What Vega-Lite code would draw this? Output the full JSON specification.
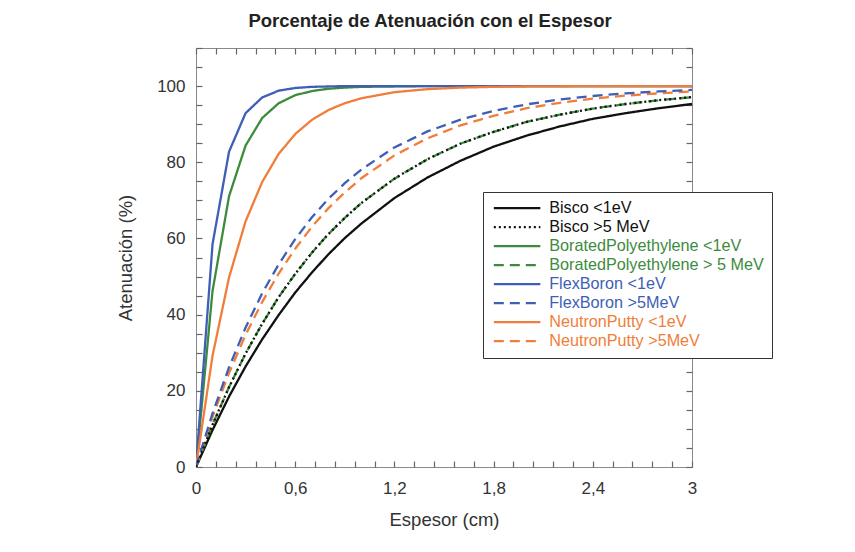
{
 "$schema": "https://vega.github.io/schema/vega-lite/v6.json",
 "width": 496, "height": 419,
 "autosize": {"type": "none"},
 "padding": {"left": 196, "top": 48, "right": 163, "bottom": 85},
 "background": "white",
 "title": {"text": "Porcentaje de Atenuación con el Espesor", "font": "Liberation Sans", "fontSize": 18.5, "fontWeight": "bold", "color": "#222222", "anchor": "middle", "dx": -14, "offset": 17},
 "config": {
  "view": {"stroke": "#8a8a8a", "strokeWidth": 1},
  "axis": {"grid": false, "domain": false, "ticks": true, "zindex": 2, "tickColor": "#666666", "tickWidth": 1.2, "tickSize": 6, "offset": -6, "labelFont": "Liberation Sans", "labelFontSize": 17, "labelColor": "#333333", "titleFont": "Liberation Sans", "titleFontSize": 18.5, "titleFontWeight": "normal", "titleColor": "#333333"},
  "legend": {"orient": "none", "legendX": 287, "legendY": 144, "symbolType": "M-3.8,0L3.8,0", "symbolSize": 150, "symbolStrokeWidth": 2.3, "symbolOffset": 18, "labelFont": "Liberation Sans", "labelFontSize": 16.2, "labelOffset": 24, "labelLimit": 400, "strokeColor": "#333333", "fillColor": "white", "padding": 8, "rowPadding": 2}
 },
 "data": {"values": [
  {"s":"Bisco <1eV","x":0,"y":0},{"s":"Bisco <1eV","x":0.1,"y":9.7},{"s":"Bisco <1eV","x":0.2,"y":18.5},{"s":"Bisco <1eV","x":0.3,"y":26.4},{"s":"Bisco <1eV","x":0.4,"y":33.5},{"s":"Bisco <1eV","x":0.5,"y":39.9},{"s":"Bisco <1eV","x":0.6,"y":45.8},{"s":"Bisco <1eV","x":0.7,"y":51.0},{"s":"Bisco <1eV","x":0.8,"y":55.8},{"s":"Bisco <1eV","x":0.9,"y":60.1},{"s":"Bisco <1eV","x":1.0,"y":63.9},{"s":"Bisco <1eV","x":1.2,"y":70.6},{"s":"Bisco <1eV","x":1.4,"y":76.0},{"s":"Bisco <1eV","x":1.6,"y":80.4},{"s":"Bisco <1eV","x":1.8,"y":84.1},{"s":"Bisco <1eV","x":2.0,"y":87.0},{"s":"Bisco <1eV","x":2.2,"y":89.4},{"s":"Bisco <1eV","x":2.4,"y":91.4},{"s":"Bisco <1eV","x":2.6,"y":92.9},{"s":"Bisco <1eV","x":2.8,"y":94.2},{"s":"Bisco <1eV","x":3.0,"y":95.3},
  {"s":"BoratedPolyethylene  <1eV","x":0,"y":0},{"s":"BoratedPolyethylene  <1eV","x":0.1,"y":46.2},{"s":"BoratedPolyethylene  <1eV","x":0.2,"y":71.1},{"s":"BoratedPolyethylene  <1eV","x":0.3,"y":84.4},{"s":"BoratedPolyethylene  <1eV","x":0.4,"y":91.6},{"s":"BoratedPolyethylene  <1eV","x":0.5,"y":95.5},{"s":"BoratedPolyethylene  <1eV","x":0.6,"y":97.6},{"s":"BoratedPolyethylene  <1eV","x":0.7,"y":98.7},{"s":"BoratedPolyethylene  <1eV","x":0.8,"y":99.3},{"s":"BoratedPolyethylene  <1eV","x":0.9,"y":99.6},{"s":"BoratedPolyethylene  <1eV","x":1.0,"y":99.8},{"s":"BoratedPolyethylene  <1eV","x":1.2,"y":99.9},{"s":"BoratedPolyethylene  <1eV","x":1.4,"y":100},{"s":"BoratedPolyethylene  <1eV","x":3.0,"y":100},
  {"s":"FlexBoron <1eV","x":0,"y":0},{"s":"FlexBoron <1eV","x":0.1,"y":58.5},{"s":"FlexBoron <1eV","x":0.2,"y":82.8},{"s":"FlexBoron <1eV","x":0.3,"y":92.9},{"s":"FlexBoron <1eV","x":0.4,"y":97.0},{"s":"FlexBoron <1eV","x":0.5,"y":98.8},{"s":"FlexBoron <1eV","x":0.6,"y":99.5},{"s":"FlexBoron <1eV","x":0.7,"y":99.8},{"s":"FlexBoron <1eV","x":0.8,"y":99.9},{"s":"FlexBoron <1eV","x":0.9,"y":100},{"s":"FlexBoron <1eV","x":3.0,"y":100},
  {"s":"NeutronPutty <1eV","x":0,"y":0},{"s":"NeutronPutty <1eV","x":0.1,"y":29.2},{"s":"NeutronPutty <1eV","x":0.2,"y":49.8},{"s":"NeutronPutty <1eV","x":0.3,"y":64.5},{"s":"NeutronPutty <1eV","x":0.4,"y":74.8},{"s":"NeutronPutty <1eV","x":0.5,"y":82.2},{"s":"NeutronPutty <1eV","x":0.6,"y":87.4},{"s":"NeutronPutty <1eV","x":0.7,"y":91.1},{"s":"NeutronPutty <1eV","x":0.8,"y":93.7},{"s":"NeutronPutty <1eV","x":0.9,"y":95.5},{"s":"NeutronPutty <1eV","x":1.0,"y":96.8},{"s":"NeutronPutty <1eV","x":1.2,"y":98.4},{"s":"NeutronPutty <1eV","x":1.4,"y":99.2},{"s":"NeutronPutty <1eV","x":1.6,"y":99.6},{"s":"NeutronPutty <1eV","x":1.8,"y":99.8},{"s":"NeutronPutty <1eV","x":2.0,"y":99.9},{"s":"NeutronPutty <1eV","x":2.4,"y":100},{"s":"NeutronPutty <1eV","x":3.0,"y":100},
  {"s":"BoratedPolyethylene > 5 MeV","x":0,"y":0},{"s":"BoratedPolyethylene > 5 MeV","x":0.1,"y":11.1},{"s":"BoratedPolyethylene > 5 MeV","x":0.2,"y":21.0},{"s":"BoratedPolyethylene > 5 MeV","x":0.3,"y":29.8},{"s":"BoratedPolyethylene > 5 MeV","x":0.4,"y":37.6},{"s":"BoratedPolyethylene > 5 MeV","x":0.5,"y":44.6},{"s":"BoratedPolyethylene > 5 MeV","x":0.6,"y":50.7},{"s":"BoratedPolyethylene > 5 MeV","x":0.7,"y":56.2},{"s":"BoratedPolyethylene > 5 MeV","x":0.8,"y":61.1},{"s":"BoratedPolyethylene > 5 MeV","x":0.9,"y":65.4},{"s":"BoratedPolyethylene > 5 MeV","x":1.0,"y":69.3},{"s":"BoratedPolyethylene > 5 MeV","x":1.2,"y":75.7},{"s":"BoratedPolyethylene > 5 MeV","x":1.4,"y":80.8},{"s":"BoratedPolyethylene > 5 MeV","x":1.6,"y":84.9},{"s":"BoratedPolyethylene > 5 MeV","x":1.8,"y":88.0},{"s":"BoratedPolyethylene > 5 MeV","x":2.0,"y":90.6},{"s":"BoratedPolyethylene > 5 MeV","x":2.2,"y":92.5},{"s":"BoratedPolyethylene > 5 MeV","x":2.4,"y":94.1},{"s":"BoratedPolyethylene > 5 MeV","x":2.6,"y":95.3},{"s":"BoratedPolyethylene > 5 MeV","x":2.8,"y":96.3},{"s":"BoratedPolyethylene > 5 MeV","x":3.0,"y":97.1},
  {"s":"NeutronPutty >5MeV","x":0,"y":0},{"s":"NeutronPutty >5MeV","x":0.1,"y":13.2},{"s":"NeutronPutty >5MeV","x":0.2,"y":24.7},{"s":"NeutronPutty >5MeV","x":0.3,"y":34.7},{"s":"NeutronPutty >5MeV","x":0.4,"y":43.3},{"s":"NeutronPutty >5MeV","x":0.5,"y":50.8},{"s":"NeutronPutty >5MeV","x":0.6,"y":57.3},{"s":"NeutronPutty >5MeV","x":0.7,"y":63.0},{"s":"NeutronPutty >5MeV","x":0.8,"y":67.9},{"s":"NeutronPutty >5MeV","x":0.9,"y":72.1},{"s":"NeutronPutty >5MeV","x":1.0,"y":75.8},{"s":"NeutronPutty >5MeV","x":1.2,"y":81.8},{"s":"NeutronPutty >5MeV","x":1.4,"y":86.3},{"s":"NeutronPutty >5MeV","x":1.6,"y":89.7},{"s":"NeutronPutty >5MeV","x":1.8,"y":92.2},{"s":"NeutronPutty >5MeV","x":2.0,"y":94.2},{"s":"NeutronPutty >5MeV","x":2.2,"y":95.6},{"s":"NeutronPutty >5MeV","x":2.4,"y":96.7},{"s":"NeutronPutty >5MeV","x":2.6,"y":97.5},{"s":"NeutronPutty >5MeV","x":2.8,"y":98.1},{"s":"NeutronPutty >5MeV","x":3.0,"y":98.6},
  {"s":"FlexBoron >5MeV","x":0,"y":0},{"s":"FlexBoron >5MeV","x":0.1,"y":14.1},{"s":"FlexBoron >5MeV","x":0.2,"y":26.2},{"s":"FlexBoron >5MeV","x":0.3,"y":36.6},{"s":"FlexBoron >5MeV","x":0.4,"y":45.6},{"s":"FlexBoron >5MeV","x":0.5,"y":53.2},{"s":"FlexBoron >5MeV","x":0.6,"y":59.8},{"s":"FlexBoron >5MeV","x":0.7,"y":65.5},{"s":"FlexBoron >5MeV","x":0.8,"y":70.4},{"s":"FlexBoron >5MeV","x":0.9,"y":74.5},{"s":"FlexBoron >5MeV","x":1.0,"y":78.1},{"s":"FlexBoron >5MeV","x":1.2,"y":83.9},{"s":"FlexBoron >5MeV","x":1.4,"y":88.1},{"s":"FlexBoron >5MeV","x":1.6,"y":91.2},{"s":"FlexBoron >5MeV","x":1.8,"y":93.5},{"s":"FlexBoron >5MeV","x":2.0,"y":95.2},{"s":"FlexBoron >5MeV","x":2.2,"y":96.5},{"s":"FlexBoron >5MeV","x":2.4,"y":97.4},{"s":"FlexBoron >5MeV","x":2.6,"y":98.1},{"s":"FlexBoron >5MeV","x":2.8,"y":98.6},{"s":"FlexBoron >5MeV","x":3.0,"y":99.0},
  {"s":"Bisco >5 MeV","x":0,"y":0},{"s":"Bisco >5 MeV","x":0.1,"y":11.1},{"s":"Bisco >5 MeV","x":0.2,"y":21.0},{"s":"Bisco >5 MeV","x":0.3,"y":29.8},{"s":"Bisco >5 MeV","x":0.4,"y":37.6},{"s":"Bisco >5 MeV","x":0.5,"y":44.6},{"s":"Bisco >5 MeV","x":0.6,"y":50.7},{"s":"Bisco >5 MeV","x":0.7,"y":56.2},{"s":"Bisco >5 MeV","x":0.8,"y":61.1},{"s":"Bisco >5 MeV","x":0.9,"y":65.4},{"s":"Bisco >5 MeV","x":1.0,"y":69.3},{"s":"Bisco >5 MeV","x":1.2,"y":75.7},{"s":"Bisco >5 MeV","x":1.4,"y":80.8},{"s":"Bisco >5 MeV","x":1.6,"y":84.9},{"s":"Bisco >5 MeV","x":1.8,"y":88.0},{"s":"Bisco >5 MeV","x":2.0,"y":90.6},{"s":"Bisco >5 MeV","x":2.2,"y":92.5},{"s":"Bisco >5 MeV","x":2.4,"y":94.1},{"s":"Bisco >5 MeV","x":2.6,"y":95.3},{"s":"Bisco >5 MeV","x":2.8,"y":96.3},{"s":"Bisco >5 MeV","x":3.0,"y":97.1}
 ]},
 "layer": [
  {
   "mark": {"type": "line", "strokeWidth": 2.3, "clip": true},
   "encoding": {
    "x": {"field": "x", "type": "quantitative", "scale": {"domain": [0, 3], "nice": false},
     "axis": {"orient": "bottom", "title": "Espesor (cm)", "ticks": true, "tickSize": 6, "tickColor": "#666666", "values": [0,0.12,0.24,0.36,0.48,0.6,0.72,0.84,0.96,1.08,1.2,1.32,1.44,1.56,1.68,1.8,1.92,2.04,2.16,2.28,2.4,2.52,2.64,2.76,2.88,3],
      "labelExpr": "abs(datum.value*5/3 - round(datum.value*5/3)) < 0.001 ? replace(toString(round(datum.value*10)/10), '.', ',') : ''",
      "labelPadding": 13, "titlePadding": 14, "labelFlush": false}},
    "y": {"field": "y", "type": "quantitative", "scale": {"domain": [0, 110], "nice": false},
     "axis": {"orient": "left", "title": "Atenuación (%)", "ticks": true, "tickSize": 6, "tickColor": "#666666", "values": [0,5,10,15,20,25,30,35,40,45,50,55,60,65,70,75,80,85,90,95,100,105,110],
      "labelExpr": "datum.value % 20 == 0 && datum.value <= 100 ? toString(datum.value) : ''",
      "labelPadding": 11, "titlePadding": 21}},
    "color": {"field": "s", "type": "nominal", "title": null,
     "scale": {"domain": ["Bisco <1eV","Bisco >5 MeV","BoratedPolyethylene  <1eV","BoratedPolyethylene > 5 MeV","FlexBoron <1eV","FlexBoron >5MeV","NeutronPutty <1eV","NeutronPutty >5MeV"],
      "range": ["#111111","#111111","#3d8b3d","#3d8b3d","#3e5fb5","#3e5fb5","#f07e3a","#f07e3a"]},
     "legend": {"encode": {"labels": {"update": {"fill": {"signal": "scale('color', datum.value)"}}}}}},
    "strokeDash": {"field": "s", "type": "nominal", "title": null,
     "scale": {"domain": ["Bisco <1eV","Bisco >5 MeV","BoratedPolyethylene  <1eV","BoratedPolyethylene > 5 MeV","FlexBoron <1eV","FlexBoron >5MeV","NeutronPutty <1eV","NeutronPutty >5MeV"],
      "range": [[1,0],[2,3],[1,0],[10,6],[1,0],[10,6],[1,0],[10,6]]}}
   }
  },
  {
   "mark": {"type": "point", "opacity": 0},
   "encoding": {
    "x": {"field": "x", "type": "quantitative", "axis": {"orient": "top", "title": null, "labels": false, "ticks": true, "tickSize": 6, "tickColor": "#666666", "values": [0,0.12,0.24,0.36,0.48,0.6,0.72,0.84,0.96,1.08,1.2,1.32,1.44,1.56,1.68,1.8,1.92,2.04,2.16,2.28,2.4,2.52,2.64,2.76,2.88,3]}},
    "y": {"field": "y", "type": "quantitative", "axis": {"orient": "right", "title": null, "labels": false, "ticks": true, "tickSize": 6, "tickColor": "#666666", "values": [0,5,10,15,20,25,30,35,40,45,50,55,60,65,70,75,80,85,90,95,100,105,110]}}
   }
  }
 ],
 "resolve": {"axis": {"x": "independent", "y": "independent"}}
}
